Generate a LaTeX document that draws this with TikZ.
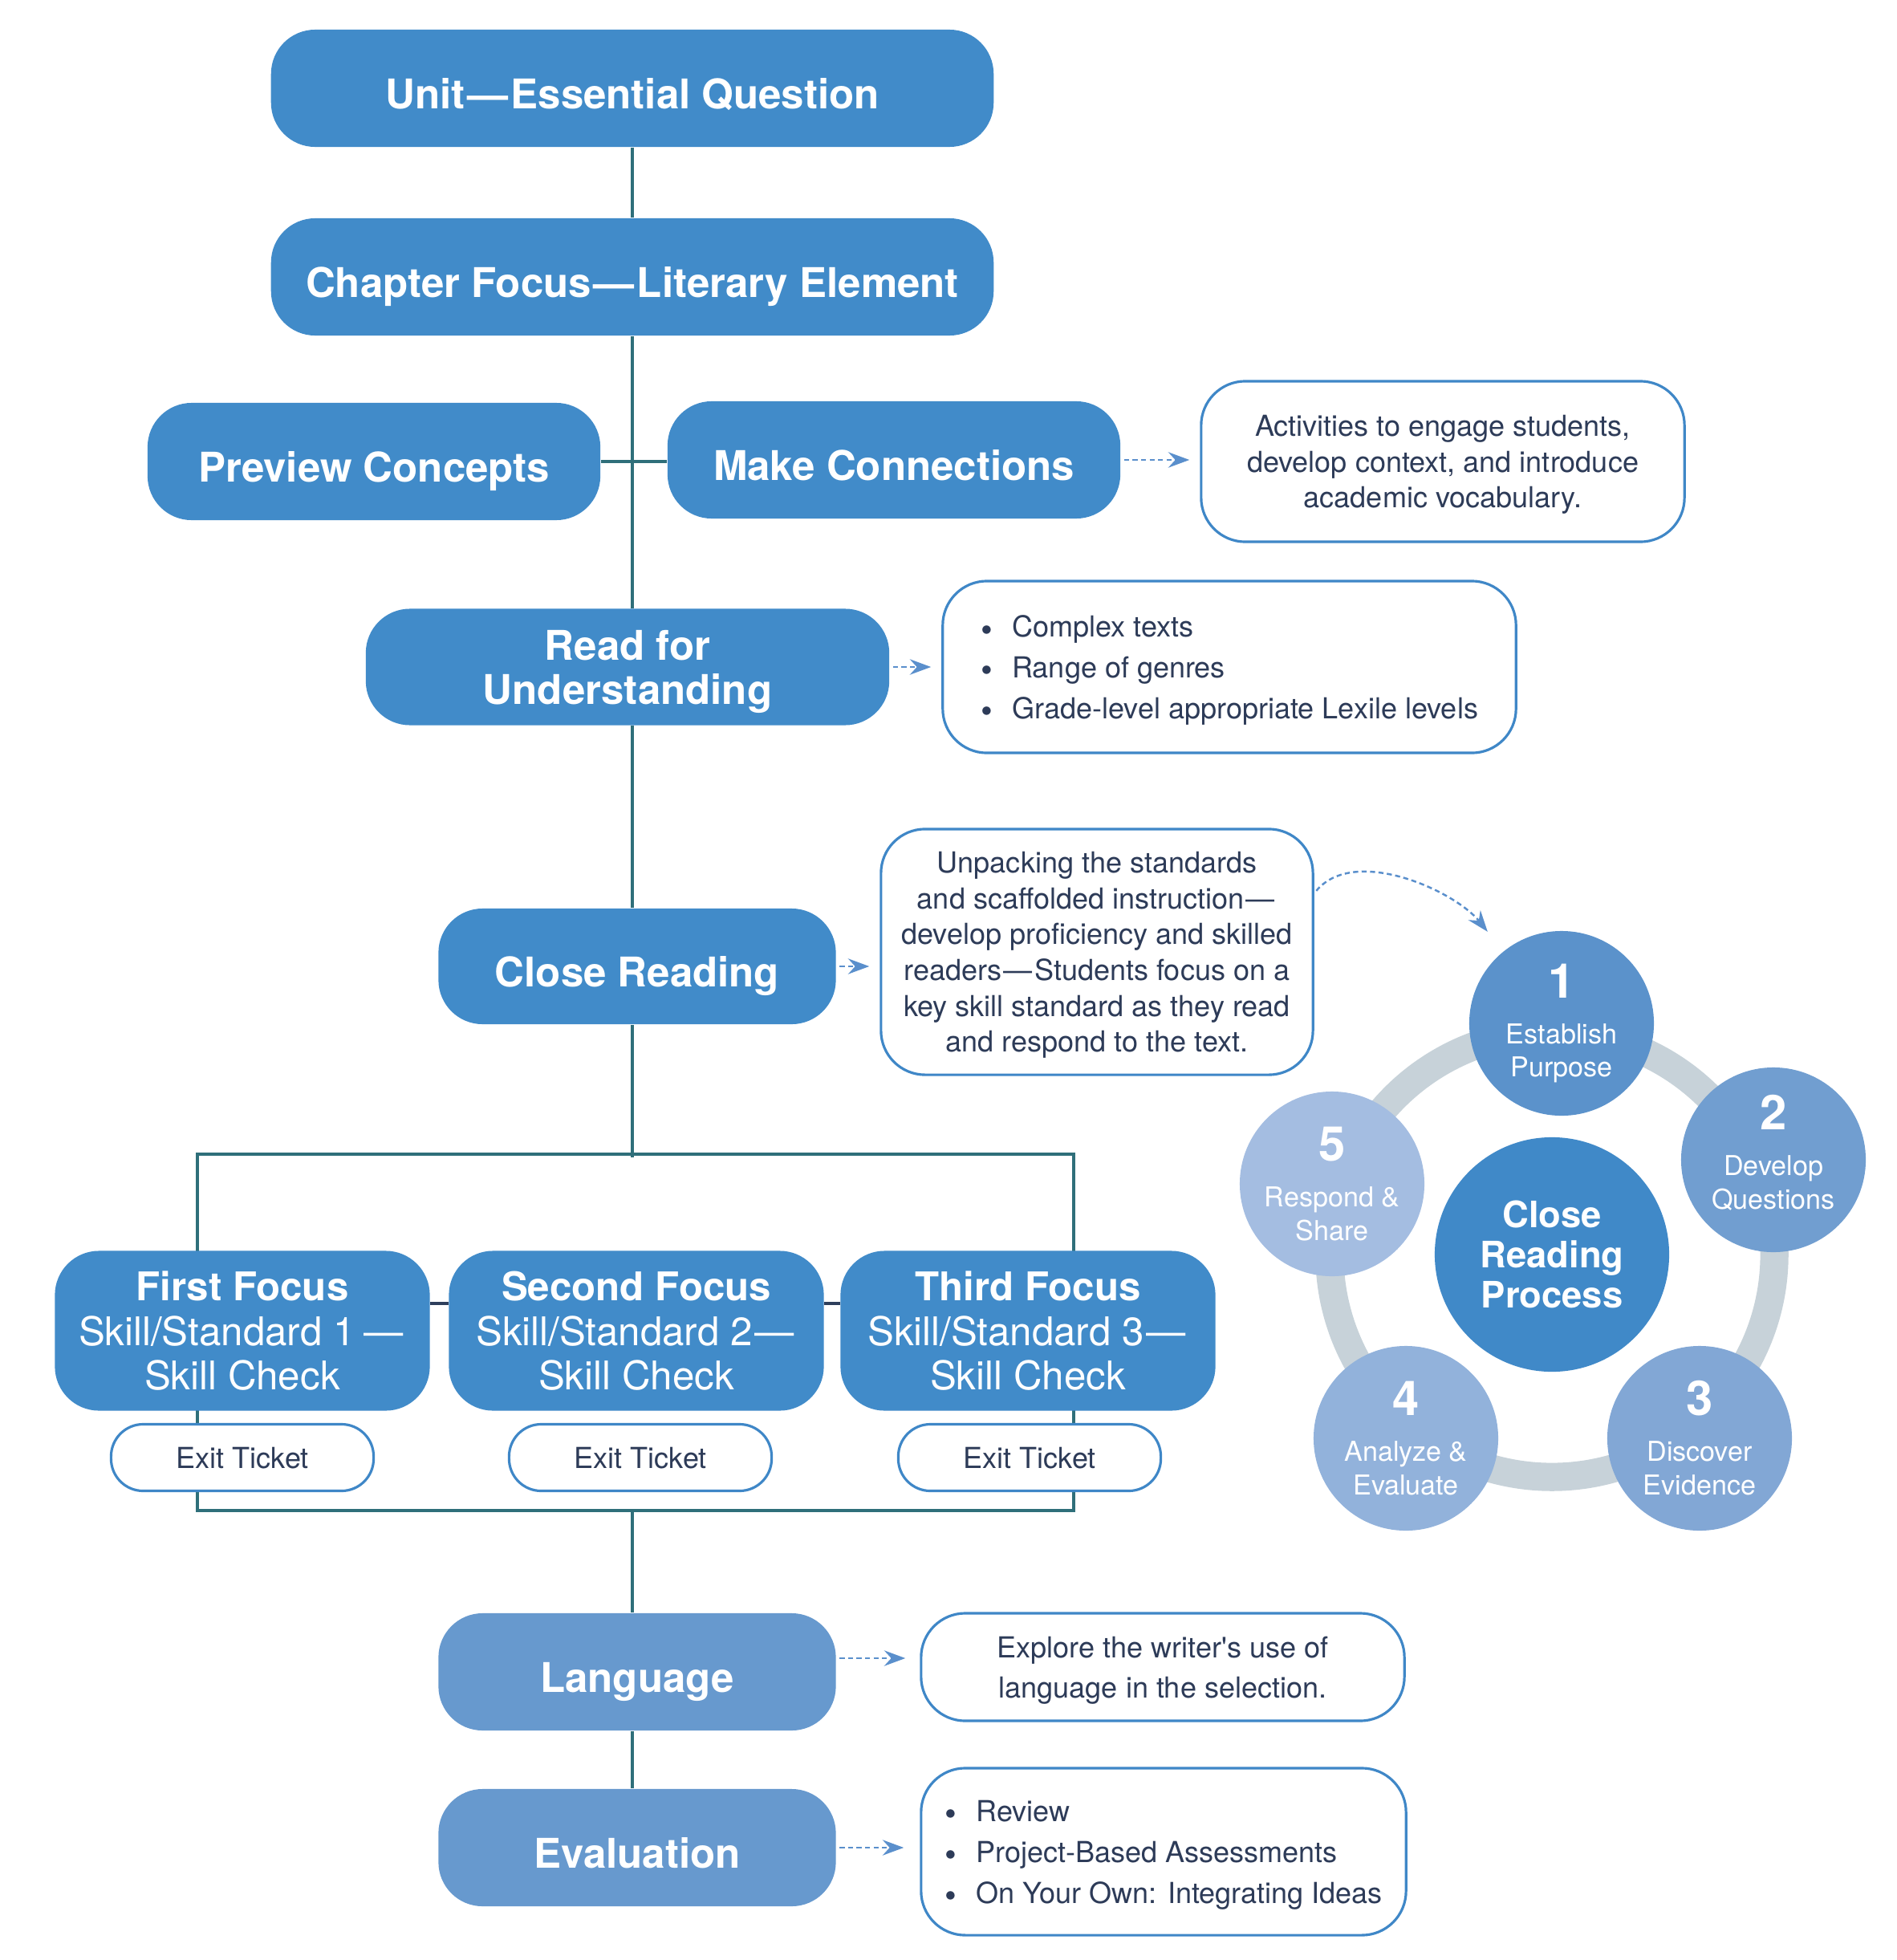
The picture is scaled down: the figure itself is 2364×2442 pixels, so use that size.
\documentclass[tikz,border=0pt]{standalone}
\usepackage{fontspec}
\setmainfont{TeX Gyre Heros}
\usetikzlibrary{arrows.meta,backgrounds}

\definecolor{boxblue}{HTML}{418BC9}
\definecolor{paleblue}{HTML}{6799CE}
\definecolor{edgeblue}{HTML}{3F87C7}
\definecolor{ink}{HTML}{2D3B58}
\definecolor{trunk}{HTML}{2F6F7A}
\definecolor{navy}{HTML}{2E3F5C}
\definecolor{dashblue}{HTML}{5A8FCC}
\definecolor{ringgray}{HTML}{C7D2D9}
\definecolor{hubblue}{HTML}{4089C8}
\definecolor{stepA}{HTML}{5B92CB}
\definecolor{stepB}{HTML}{719ED0}
\definecolor{stepC}{HTML}{82A7D5}
\definecolor{stepD}{HTML}{92B2DB}
\definecolor{stepE}{HTML}{A4BDE1}

\newcommand\stepnum[1]{{\fontsize{17}{17}\selectfont\bfseries #1}}
\newcommand\dotitem{\raisebox{-1.5pt}{\fontsize{12}{12}\selectfont\textbullet}\hspace{7pt}}
\newcommand\gapdash{\kern0.06em—\kern0.06em}
\newcommand\straightquote{\XeTeXglyph\XeTeXcharglyph"27\relax}

\tikzset{
    boxbase/.style={rectangle, rounded corners=0.55cm, fill=boxblue, text=white,
        inner sep=0pt, align=center, font=\fontsize{14.5}{15.6}\selectfont\bfseries},
    mainbox/.style={boxbase, text height=14.5pt, text depth=0pt},
    palebox/.style={mainbox, fill=paleblue, minimum width=4.95cm, minimum height=1.46cm},
    focusbox/.style={boxbase, minimum width=4.67cm, minimum height=1.99cm, text depth=-3.4pt,
        font=\fontsize{14}{15.8}\selectfont},
    notebox/.style={rectangle, rounded corners=0.55cm, draw=edgeblue, line width=0.9pt,
        fill=white, text=ink, inner sep=0pt, align=center, text depth=-3pt,
        font=\fontsize{10.25}{12.7}\selectfont},
    ticket/.style={notebox, rounded corners=0.4cm, minimum width=3.27cm, minimum height=0.83cm,
        text depth=0pt},
    stepdisc/.style={circle, minimum size=2.3cm, inner sep=0pt, text=white, align=center,
        font=\fontsize{9.7}{11.9}\selectfont},
    link/.style={draw=trunk, line width=1.3pt},
    bridge/.style={draw=navy, line width=1.4pt},
    pointer/.style={draw=dashblue, line width=0.7pt, dash pattern=on 1.8pt off 1.2pt,
        shorten <=0.04cm, shorten >=0.13cm,
        -{Stealth[length=7.5pt,width=5.5pt,inset=2.5pt]}},
}

\begin{document}
\begin{tikzpicture}[x=0.01cm, y=-0.01cm]
    \useasboundingbox (0,0) rectangle (2364,2442);

    % main column
    \node[mainbox, minimum width=9cm, minimum height=1.46cm] (unit) at (788,110) {Unit\gapdash Essential Question};
    \node[mainbox, minimum width=9cm, minimum height=1.46cm] (chapter) at (788,345) {Chapter Focus\gapdash Literary Element};
    \node[mainbox, minimum width=5.64cm, minimum height=1.46cm] (preview) at (466,575) {Preview Concepts};
    \node[mainbox, minimum width=5.64cm, minimum height=1.46cm] (connect) at (1114,573) {Make Connections};
    \node[boxbase, minimum width=6.52cm, minimum height=1.45cm, text depth=-1.5pt] (read) at (782,831) {Read for\\Understanding};
    \node[mainbox, minimum width=4.95cm, minimum height=1.44cm] (close) at (794,1204) {Close Reading};

    \node[focusbox] (first) at (302,1658) {\textbf{First Focus}\\Skill/Standard 1\,\gapdash\\Skill Check};
    \node[focusbox] (second) at (793,1658) {\textbf{Second Focus}\\Skill/Standard 2\gapdash\\Skill Check};
    \node[focusbox] (third) at (1281,1658) {\textbf{Third Focus}\\Skill/Standard 3\gapdash\\Skill Check};

    \node[ticket] (ticket1) at (302,1816) {Exit Ticket};
    \node[ticket] (ticket2) at (798,1816) {Exit Ticket};
    \node[ticket] (ticket3) at (1283,1816) {Exit Ticket};

    \node[palebox] (language) at (794,2083) {Language};
    \node[palebox] (evaluation) at (794,2302) {Evaluation};

    % notes on the right
    \node[notebox, minimum width=6.02cm, minimum height=2cm] (activities) at (1798,575)
        {Activities to engage students,\\develop context, and introduce\\academic vocabulary.};
    \node[notebox, minimum width=7.14cm, minimum height=2.14cm, align=left, text depth=-5.4pt,
        font=\fontsize{10.25}{14.4}\selectfont] (genres) at (1532,831)
        {\dotitem Complex texts\\\dotitem Range of genres\\\dotitem Grade-level appropriate Lexile levels};
    \node[notebox, minimum width=5.38cm, minimum height=3.06cm] (unpack) at (1367,1186)
        {Unpacking the standards\\and scaffolded instruction\gapdash\\develop proficiency and skilled\\readers\gapdash Students focus on a\\key skill standard as they read\\and respond to the text.};
    \node[notebox, minimum width=6.02cm, minimum height=1.34cm,
        font=\fontsize{10.25}{14.2}\selectfont] (explore) at (1449,2077)
        {Explore the writer\straightquote s use of\\language in the selection.};
    \node[notebox, minimum width=6.04cm, minimum height=2.08cm, align=left, text depth=-4.5pt,
        font=\fontsize{10.25}{14.5}\selectfont] (review) at (1450,2307)
        {\dotitem Review\\\dotitem Project-Based Assessments\\\dotitem On Your Own: Integrating Ideas};

    % close reading cycle
    \node[circle, fill=hubblue, minimum size=2.92cm, inner sep=0pt, text=white, align=center,
        font=\fontsize{12.9}{14.2}\selectfont\bfseries] (hub) at (1934,1563) {Close\\Reading\\Process};
    \node[stepdisc, fill=stepA] (s1) at (1946,1275) {\stepnum{1}\\[4.3pt]Establish\\Purpose};
    \node[stepdisc, fill=stepB, text depth=5.6pt] (s2) at (2210,1445) {\stepnum{2}\\[4.3pt]Develop\\Questions};
    \node[stepdisc, fill=stepC] (s3) at (2118,1792) {\stepnum{3}\\[4.3pt]Discover\\Evidence};
    \node[stepdisc, fill=stepD] (s4) at (1752,1792) {\stepnum{4}\\[4.3pt]Analyze \&\\Evaluate};
    \node[stepdisc, fill=stepE] (s5) at (1660,1475) {\stepnum{5}\\[4.3pt]Respond \&\\Share};

    \begin{scope}[on background layer]
        \draw[draw=ringgray, line width=10pt] (hub.center) circle[radius=2.77cm];

        \draw[link] (unit) -- (chapter);
        \draw[link] (chapter) -- (chapter |- read.north);
        \draw[link] (preview.east) -- (preview.east -| connect.west);
        \draw[link] (read.south -| chapter) -- (close.north -| chapter);

        % bracket round the three focus boxes
        \coordinate (split) at (788,1438);
        \coordinate (merge) at (788,1882);
        \coordinate (bracketNW) at (246,1438);
        \coordinate (bracketSE) at (1338,1882);
        \draw[link] (close.south -| split) -- ([yshift=-0.04cm]split);
        \draw[link] (bracketNW) rectangle (bracketSE);
        \draw[link] (merge) -- (language.north -| merge);
        \draw[link] (language.south -| merge) -- (evaluation.north -| merge);

        \draw[bridge] ([yshift=0.34cm]first.east) -- ([yshift=0.34cm]second.west);
        \draw[bridge] ([yshift=0.34cm]second.east) -- ([yshift=0.34cm]third.west);
    \end{scope}

    % dashed pointers
    \draw[pointer] (connect.east) -- (connect.east -| activities.west);
    \draw[pointer] (read.east) -- (read.east -| genres.west);
    \draw[pointer] (close.east) -- (close.east -| unpack.west);
    \draw[pointer, shorten >=0.18cm] ([yshift=0.17cm]language.east) -- ([yshift=0.17cm]language.east -| explore.west);
    \draw[pointer, shorten >=0.2cm] (evaluation.east) -- (evaluation.east -| review.west);
    \draw[pointer, shorten >=0.31cm] ([yshift=0.73cm]unpack.east) .. controls +(50,-60) and +(-60,-75) .. (s1.129);
\end{tikzpicture}
\end{document}
